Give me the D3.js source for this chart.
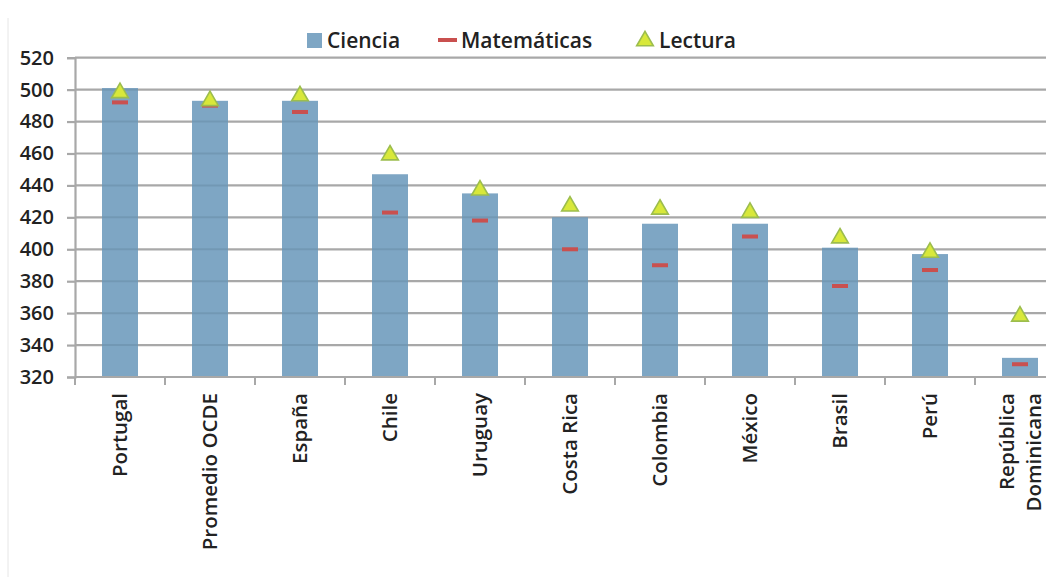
<!DOCTYPE html>
<html>
<head>
<meta charset="utf-8">
<script src="https://cdn.jsdelivr.net/npm/d3@7"></script>
<style>
  html, body { margin: 0; padding: 0; background: #fff; }
  svg { display: block; }
  text { font-family: "Open Sans", "DejaVu Sans", sans-serif; fill: #222; }
</style>
</head>
<body>
<svg id="chart" width="1046" height="577"></svg>
<script>
// PISA scores by country
const categories = ["Portugal", "Promedio OCDE", "España", "Chile", "Uruguay", "Costa Rica",
  "Colombia", "México", "Brasil", "Perú", "República Dominicana"];
const ciencia     = [501, 493, 493, 447, 435, 420, 416, 416, 401, 397, 332];
const matematicas = [492, 490, 486, 423, 418, 400, 390, 408, 377, 387, 328];
const lectura     = [498, 493, 496, 459, 437, 427, 425, 423, 407, 398, 358];
const yTicks = [320, 340, 360, 380, 400, 420, 440, 460, 480, 500, 520];
const seriesNames = ["Ciencia", "Matemáticas", "Lectura"];

const colBar = "#7ea6c4";
const colMath = "#c9504f";
const colTriFill = "#d8e83a";
const colTriStroke = "#9cbd4e";
const colGrid = "#a8a8a8";

const svg = d3.select("#chart");
const W = 1046, H = 577;
const plotLeft = 75, plotRight = 1065, plotTop = 57.7, plotBottom = 377;

const x = d3.scaleBand().domain(categories).range([plotLeft, plotRight])
  .paddingInner(0.6).paddingOuter(0.3);
const step = x.step();
const y = d3.scaleLinear().domain([320, 520]).range([plotBottom, plotTop]);

// faint frame edge on the left
svg.append("line").attr("x1", 8).attr("x2", 8).attr("y1", 18).attr("y2", H)
  .attr("stroke", "#e6e6e6").attr("stroke-width", 1);

// y axis
const yAxis = d3.axisLeft(y).tickValues(yTicks).tickSize(8).tickPadding(13)
  .tickFormat(d3.format("d"));
const gy = svg.append("g").attr("transform", `translate(${plotLeft},0)`).call(yAxis);
gy.select(".domain").attr("stroke", colGrid).attr("stroke-width", 2.2);
gy.selectAll(".tick line").attr("stroke", colGrid).attr("stroke-width", 2.2);
gy.selectAll(".tick text").style("font-size", "20px").style("font-weight", "600")
  .attr("fill", "#222");

// horizontal gridlines
const gridVals = yTicks.filter(v => v > 320);
svg.append("g").selectAll("line").data(gridVals).join("line")
  .attr("x1", plotLeft).attr("x2", W)
  .attr("y1", d => y(d)).attr("y2", d => y(d))
  .attr("stroke", colGrid).attr("stroke-width", 2.2);

// bars: Ciencia
svg.append("g").selectAll("rect").data(categories).join("rect")
  .attr("x", d => x(d))
  .attr("width", x.bandwidth())
  .attr("y", (d, i) => y(ciencia[i]))
  .attr("height", (d, i) => y(320) - y(ciencia[i]))
  .attr("fill", colBar);

// gridlines show faintly through the bars
const clip = svg.append("clipPath").attr("id", "barsClip");
clip.selectAll("rect").data(categories).join("rect")
  .attr("x", d => x(d)).attr("width", x.bandwidth())
  .attr("y", (d, i) => y(ciencia[i]))
  .attr("height", (d, i) => y(320) - y(ciencia[i]));
svg.append("g").attr("clip-path", "url(#barsClip)")
  .selectAll("line").data(gridVals).join("line")
  .attr("x1", plotLeft).attr("x2", W)
  .attr("y1", d => y(d)).attr("y2", d => y(d))
  .attr("stroke", "#5d7f99").attr("stroke-width", 2).attr("opacity", 0.35);

// x axis
const gx = svg.append("g");
gx.append("line").attr("x1", plotLeft).attr("x2", W)
  .attr("y1", plotBottom).attr("y2", plotBottom)
  .attr("stroke", colGrid).attr("stroke-width", 2.2);
gx.selectAll("line.tk").data(d3.range(categories.length + 1)).join("line")
  .attr("class", "tk")
  .attr("x1", i => plotLeft + i * step).attr("x2", i => plotLeft + i * step)
  .attr("y1", plotBottom).attr("y2", plotBottom + 8)
  .attr("stroke", colGrid).attr("stroke-width", 2);

// category labels, rotated
const labelTop = 393;
categories.forEach((c, i) => {
  const cx = x(c) + x.bandwidth() / 2;
  const parts = c === "República Dominicana" ? ["República", "Dominicana"] : [c];
  const g = svg.append("g").attr("transform", `translate(${cx},${labelTop}) rotate(-90)`);
  parts.forEach((p, j) => {
    const off = (j - (parts.length - 1) / 2) * 27;
    g.append("text").attr("x", 0).attr("y", off).attr("dy", "0.35em")
      .attr("text-anchor", "end")
      .style("font-size", "20.5px").style("font-weight", "600")
      .text(p);
  });
});

// Matemáticas dashes
const dashW = 16, dashH = 4;
svg.append("g").selectAll("rect").data(categories).join("rect")
  .attr("x", d => x(d) + x.bandwidth() / 2 - dashW / 2)
  .attr("y", (d, i) => y(matematicas[i]) - dashH / 2)
  .attr("width", dashW).attr("height", dashH)
  .attr("fill", colMath);

// Lectura triangles
const tri = d3.symbol().type(d3.symbolTriangle).size(120);
svg.append("g").selectAll("path").data(categories).join("path")
  .attr("d", tri)
  .attr("transform", (d, i) => `translate(${x(d) + x.bandwidth() / 2},${y(lectura[i])})`)
  .attr("fill", colTriFill).attr("stroke", colTriStroke).attr("stroke-width", 1.6);

// legend
const lg = svg.append("g").attr("class", "legend");
lg.append("rect").attr("x", 307).attr("y", 33).attr("width", 15).attr("height", 15).attr("fill", colBar);
lg.append("text").attr("x", 327).attr("y", 41).attr("dy", "0.35em")
  .style("font-size", "21px").style("font-weight", "600").text(seriesNames[0]);
lg.append("rect").attr("x", 438).attr("y", 38).attr("width", 19).attr("height", 4).attr("fill", colMath);
lg.append("text").attr("x", 461).attr("y", 41).attr("dy", "0.35em")
  .style("font-size", "21px").style("font-weight", "600").text(seriesNames[1]);
lg.append("path").attr("d", tri)
  .attr("transform", "translate(645,41)")
  .attr("fill", colTriFill).attr("stroke", colTriStroke).attr("stroke-width", 1.6);
lg.append("text").attr("x", 659).attr("y", 41).attr("dy", "0.35em")
  .style("font-size", "21px").style("font-weight", "600").text(seriesNames[2]);
</script>
</body>
</html>
